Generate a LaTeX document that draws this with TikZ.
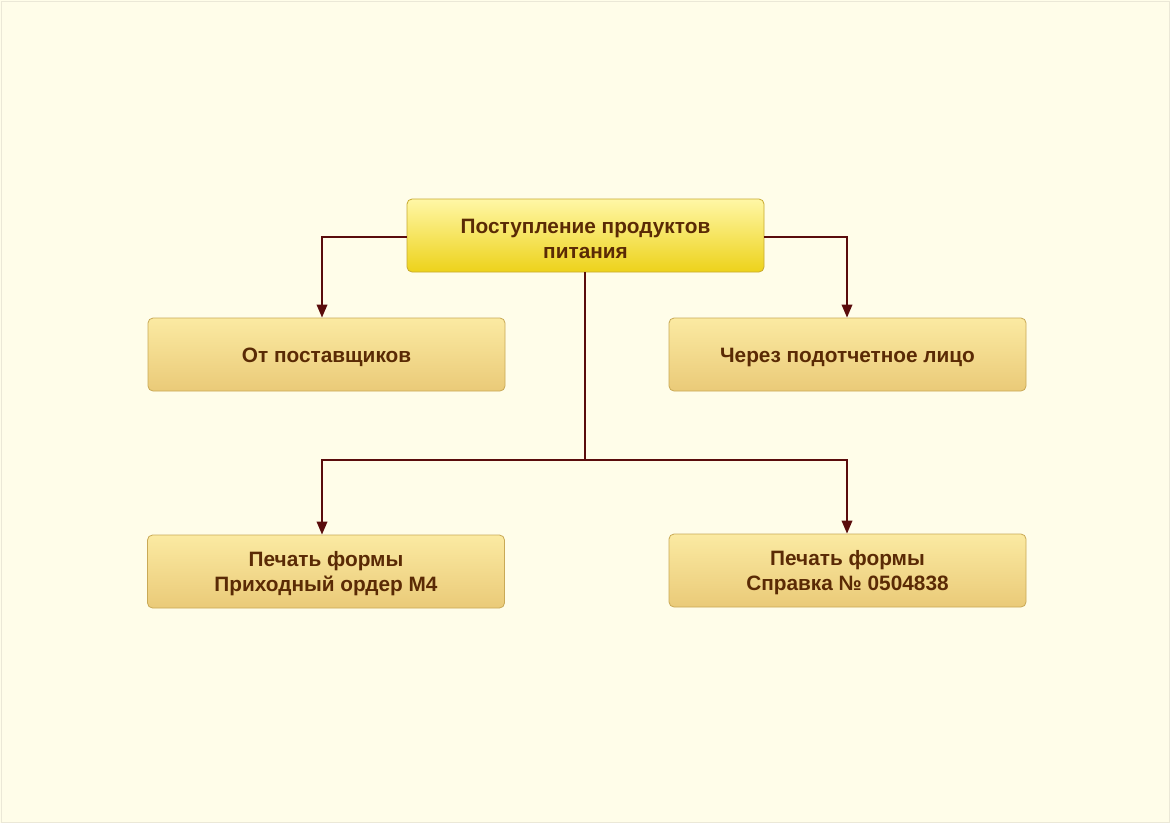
\documentclass[tikz,border=0pt]{standalone}
\usepackage{fontspec}
\setmainfont{Liberation Sans}
\usetikzlibrary{arrows.meta}
\definecolor{bg}{HTML}{FFFDE9}
\definecolor{txt}{HTML}{5A2A05}
\definecolor{conn}{HTML}{5A0C0C}
\definecolor{boxtop}{HTML}{FBEAA2}
\definecolor{boxbot}{HTML}{EACA78}
\definecolor{boxline}{HTML}{C9A956}
\definecolor{maintop}{HTML}{FFF7A6}
\definecolor{mainbot}{HTML}{EDD21A}
\definecolor{mainline}{HTML}{C8AA30}
\tikzset{
  x=1pt, y=-1pt,
  box/.style={draw=boxline, line width=0.8pt, rounded corners=5pt, minimum width=357pt, minimum height=73pt,
    top color=boxtop, bottom color=boxbot},
  mainbox/.style={box, draw=mainline, top color=maintop, bottom color=mainbot},
  lbl/.style={text=txt, align=center, inner sep=0pt, font=\bfseries\fontsize{20.8}{25}\selectfont},
  conn/.style={draw=conn, line width=1.9pt, -{Triangle[length=13pt,width=10.5pt]}},
  plain/.style={draw=conn, line width=1.9pt}
}
\begin{document}
\begin{tikzpicture}
\fill[bg] (0,0) rectangle (1170,823);
\draw[color={rgb,255:red,235;green,232;blue,215}, line width=1pt] (1,1) rectangle (1169,822);
\node[mainbox] (top) at (585.5,235.5) {};
\node[box] (ml) at (326.5,354.5) {};
\node[box] (mr) at (847.5,354.5) {};
\node[box] (bl) at (326,571.5) {};
\node[box] (br) at (847.5,570.5) {};
\node[lbl] (topt) at ([yshift=-3pt]top.center) {Поступление продуктов\\питания};
\node[lbl] (mlt) at ([yshift=-3pt]ml.center) {От поставщиков};
\node[lbl] (mrt) at ([yshift=-3pt]mr.center) {Через подотчетное лицо};
\node[lbl] (blt) at ([yshift=-2pt]bl.center) {Печать формы\\Приходный ордер М4};
\node[lbl] (brt) at ([yshift=-2pt]br.center) {Печать формы\\Справка № 0504838};
\coordinate (j) at (585,460);
\draw[conn] (top.west |- 0,237) -| (322,0 |- ml.north);
\draw[conn] (top.east |- 0,237) -| (847,0 |- mr.north);
\draw[plain] (top.south -| j) -- (j);
\draw[conn] (j) -| (322,0 |- bl.north);
\draw[conn] (j) -| (847,0 |- br.north);
\end{tikzpicture}
\end{document}
